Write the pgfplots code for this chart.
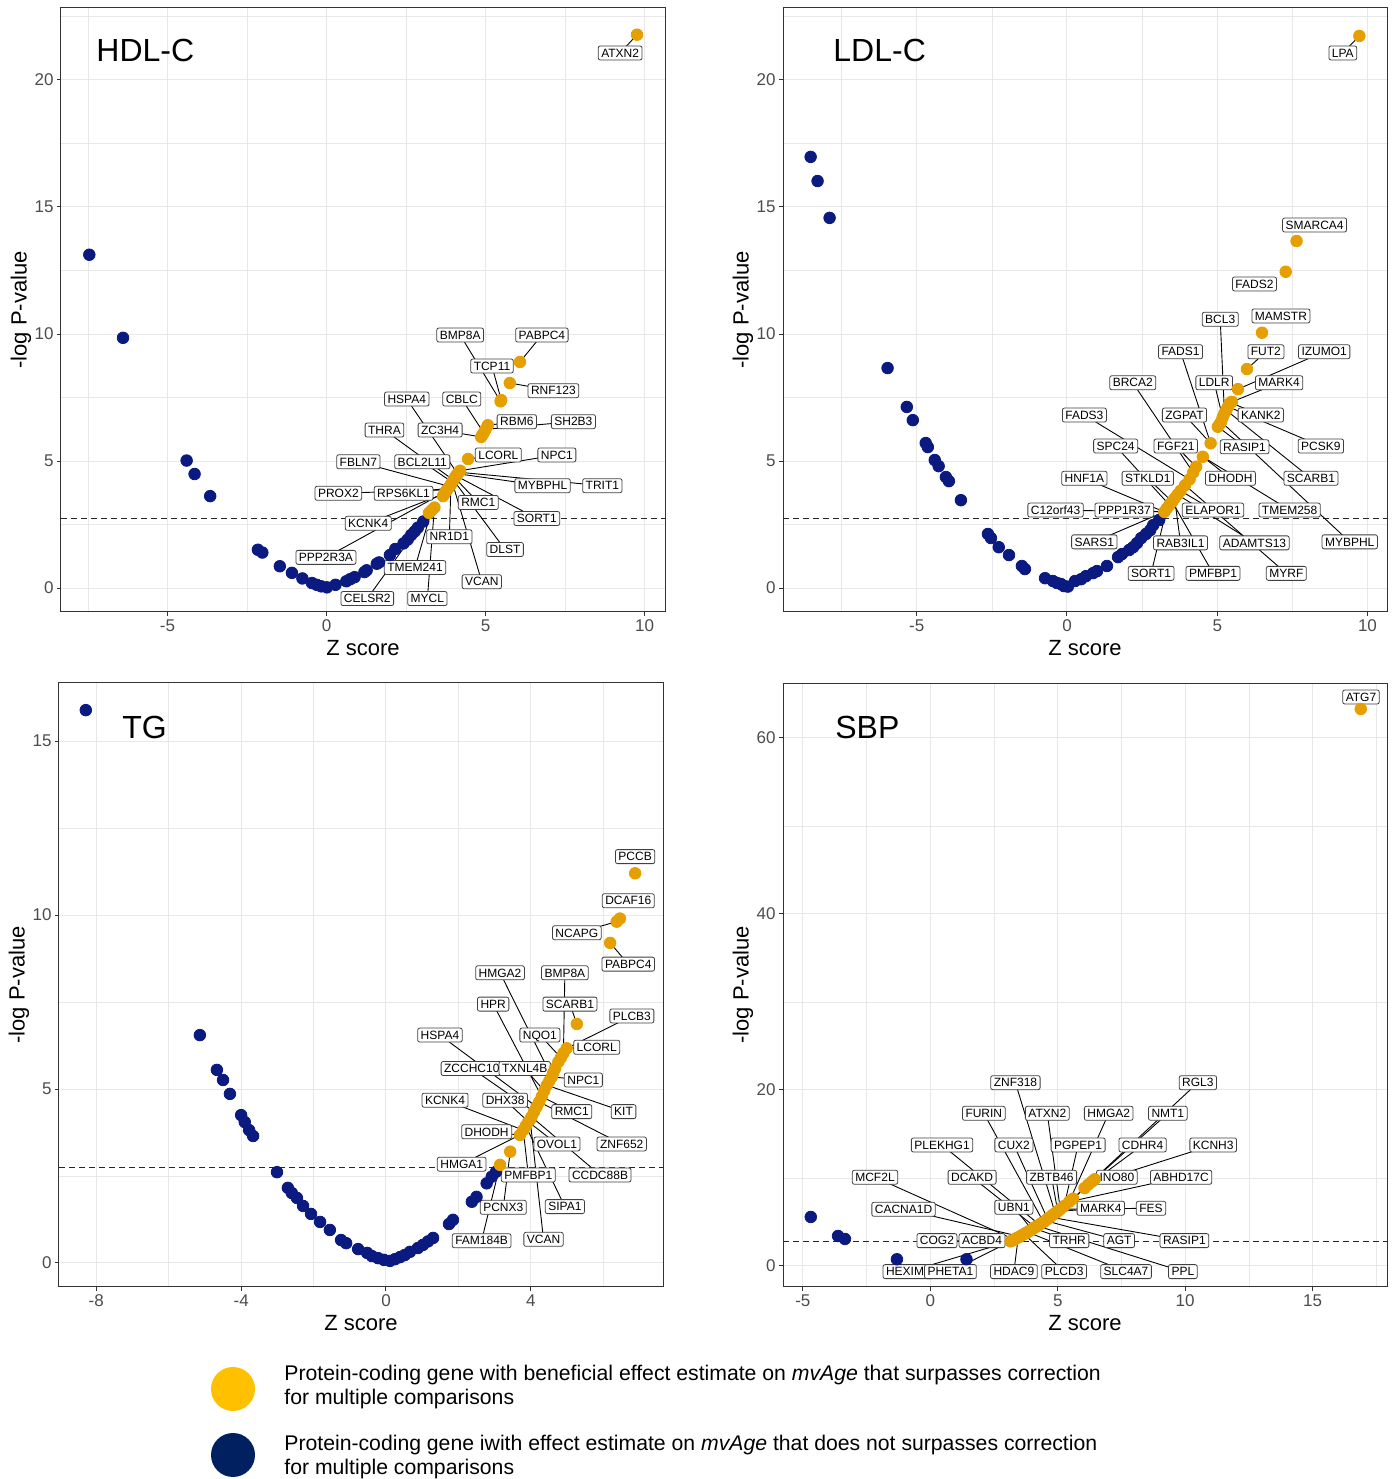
\documentclass[border=0pt]{standalone}
\usepackage{fontspec}
\setmainfont{Liberation Sans}
\usepackage{pgfplots}
\pgfplotsset{compat=1.18}
\definecolor{cOr}{HTML}{E69F00}
\definecolor{cNv}{HTML}{0A1A80}
\definecolor{cLy}{HTML}{FFC000}
\definecolor{cLn}{HTML}{002060}
\pgfplotsset{
  panel/.style={scale only axis, width=302pt, height=302pt, anchor=south west,
    axis line style={draw=black!80, line width=0.5pt},
    tick style={black!80, line width=0.5pt}, tick align=outside,
    xtick pos=bottom, ytick pos=left,
    major tick length=2pt, minor tick length=0pt, grid=both,
    major grid style={black!9, line width=0.5pt},
    minor grid style={black!9, line width=0.25pt},
    /pgf/number format/assume math mode=true,
    ticklabel style={font=\fontsize{8.5}{9}\selectfont, text=black!70},
    xticklabel style={inner sep=1pt, yshift=-0.5pt},
    yticklabel style={inner sep=1pt, xshift=-0.5pt},
    xlabel={Z score}, ylabel={-log P-value},
    label style={font=\fontsize{11}{12}\selectfont},
    xlabel style={at={([yshift=-18pt]axis description cs:0.5,0)}, anchor=center},
    ylabel style={at={([xshift=-20pt]axis description cs:0,0.5)}, anchor=center},
    clip=false},
  nv/.style={only marks, mark=*, mark size=2.9pt, color=cNv},
  orx/.style={only marks, mark=*, mark size=2.9pt, color=cOr},
}
\tikzset{
  lead/.style={black, line width=0.45pt},
  gl/.style={draw=black!75, fill=white, rounded corners=1pt, line width=0.4pt,
    inner xsep=1.5pt, inner ysep=1.2pt, text height=4.4pt, text depth=0.2pt,
    font=\fontsize{6}{7}\selectfont},
  ttl/.style={anchor=west, inner sep=0pt, font=\fontsize{16}{18}\selectfont},
}
\newcommand\lbline[5]{\draw[lead] (axis cs:#3,#4) -- (axis cs:#1,#2);}
\newcommand\lbnode[5]{\node[gl] at (axis cs:#1,#2) {#5};}
\newcommand\lbnline[3]{}
\newcommand\lbnnode[3]{\node[gl] at (axis cs:#1,#2) {#3};}
\newcommand\drawlabels[1]{\let\lb\lbline\let\lbn\lbnline #1\let\lb\lbnode\let\lbn\lbnnode #1}

% ---- label lists: {label x}{label y}{point x}{point y}{name}
\newcommand\labsHDL{%
\lb{9.23}{21.06}{9.76}{21.78}{ATXN2}
\lb{4.20}{9.96}{5.47}{7.35}{BMP8A}
\lb{6.77}{9.96}{6.08}{8.90}{PABPC4}
\lb{5.20}{8.74}{5.49}{7.40}{TCP11}
\lb{7.13}{7.77}{5.76}{8.07}{RNF123}
\lb{2.52}{7.44}{4.12}{4.50}{HSPA4}
\lb{4.25}{7.44}{4.94}{6.11}{CBLC}
\lb{7.76}{6.55}{5.00}{6.25}{SH2B3}
\lb{5.98}{6.55}{5.07}{6.41}{RBM6}
\lb{1.82}{6.22}{3.99}{4.25}{THRA}
\lb{3.57}{6.22}{4.86}{5.95}{ZC3H4}
\lb{7.24}{5.24}{4.20}{4.62}{NPC1}
\lb{5.40}{5.24}{4.45}{5.08}{LCORL}
\lb{1.00}{4.97}{3.87}{4.00}{FBLN7}
\lb{3.01}{4.97}{3.95}{4.17}{BCL2L11}
\lb{8.67}{4.03}{4.16}{4.56}{TRIT1}
\lb{6.79}{4.03}{4.12}{4.50}{MYBPHL}
\lb{0.37}{3.73}{3.78}{3.87}{PROX2}
\lb{2.42}{3.73}{3.82}{3.93}{RPS6KL1}
\lb{6.61}{2.74}{4.07}{4.42}{SORT1}
\lb{4.77}{3.37}{4.03}{4.34}{RMC1}
\lb{1.31}{2.55}{3.71}{3.72}{KCNK4}
\lb{3.86}{2.02}{3.91}{4.08}{NR1D1}
\lb{5.61}{1.52}{3.99}{4.25}{DLST}
\lb{-0.02}{1.21}{3.75}{3.80}{PPP2R3A}
\lb{2.78}{0.81}{3.30}{3.06}{TMEM241}
\lb{4.88}{0.25}{3.95}{4.17}{VCAN}
\lb{1.28}{-0.41}{3.22}{2.96}{CELSR2}
\lb{3.17}{-0.41}{3.39}{3.17}{MYCL}}

\newcommand\labsLDL{%
\lb{9.18}{21.06}{9.73}{21.73}{LPA}
\lbn{8.24}{14.29}{SMARCA4}
\lbn{6.24}{11.97}{FADS2}
\lbn{7.12}{10.71}{MAMSTR}
\lb{5.10}{10.58}{5.24}{6.88}{BCL3}
\lb{3.78}{9.30}{4.78}{5.70}{FADS1}
\lb{6.62}{9.30}{5.99}{8.62}{FUT2}
\lb{8.56}{9.30}{5.69}{7.83}{IZUMO1}
\lb{2.19}{8.08}{4.20}{4.55}{BRCA2}
\lb{4.90}{8.08}{5.18}{6.72}{LDLR}
\lb{7.06}{8.08}{5.49}{7.33}{MARK4}
\lb{0.58}{6.81}{4.08}{4.28}{FADS3}
\lb{3.91}{6.81}{4.78}{5.70}{ZGPAT}
\lb{6.45}{6.81}{5.44}{7.30}{KANK2}
\lb{1.62}{5.59}{3.41}{3.27}{SPC24}
\lb{3.62}{5.59}{4.30}{4.78}{FGF21}
\lb{5.91}{5.56}{5.02}{6.35}{RASIP1}
\lb{8.45}{5.59}{5.36}{7.14}{PCSK9}
\lb{0.58}{4.32}{3.24}{3.00}{HNF1A}
\lb{2.69}{4.32}{3.50}{3.40}{STKLD1}
\lb{5.44}{4.32}{4.52}{5.17}{DHODH}
\lb{8.12}{4.32}{5.30}{7.00}{SCARB1}
\lb{-0.38}{3.07}{3.24}{3.00}{C12orf43}
\lb{1.91}{3.07}{3.24}{3.00}{PPP1R37}
\lb{4.86}{3.07}{3.78}{3.83}{ELAPOR1}
\lb{7.41}{3.07}{4.52}{5.17}{TMEM258}
\lb{9.41}{1.82}{5.13}{6.55}{MYBPHL}
\lb{0.91}{1.82}{3.24}{3.00}{SARS1}
\lb{3.78}{1.78}{3.58}{3.53}{RAB3IL1}
\lb{6.24}{1.78}{3.68}{3.68}{ADAMTS13}
\lb{2.80}{0.58}{3.32}{3.13}{SORT1}
\lb{4.86}{0.58}{3.50}{3.40}{PMFBP1}
\lb{7.30}{0.58}{3.93}{4.05}{MYRF}}

\newcommand\labsTG{%
\lbn{6.88}{11.68}{PCCB}
\lbn{6.69}{10.41}{DCAF16}
\lb{5.27}{9.49}{6.37}{9.81}{NCAPG}
\lb{6.69}{8.59}{6.19}{9.20}{PABPC4}
\lb{3.15}{8.34}{4.58}{5.35}{HMGA2}
\lb{4.94}{8.34}{4.90}{6.03}{BMP8A}
\lb{2.96}{7.44}{4.30}{4.78}{HPR}
\lb{5.08}{7.44}{5.27}{6.87}{SCARB1}
\lb{6.79}{7.10}{4.99}{6.17}{PLCB3}
\lb{1.49}{6.55}{4.16}{4.49}{HSPA4}
\lb{4.25}{6.55}{4.83}{5.90}{NQO1}
\lb{5.82}{6.20}{4.99}{6.17}{LCORL}
\lb{2.37}{5.59}{4.09}{4.35}{ZCCHC10}
\lb{3.83}{5.59}{4.37}{4.95}{TXNL4B}
\lb{5.45}{5.26}{4.58}{5.35}{NPC1}
\lb{1.63}{4.68}{3.79}{3.82}{KCNK4}
\lb{3.29}{4.68}{3.93}{4.06}{DHX38}
\lb{5.13}{4.35}{4.30}{4.78}{RMC1}
\lb{6.56}{4.35}{4.44}{5.11}{KIT}
\lb{2.78}{3.77}{3.70}{3.68}{DHODH}
\lb{4.72}{3.42}{3.93}{4.06}{OVOL1}
\lb{6.51}{3.42}{4.23}{4.63}{ZNF652}
\lb{2.09}{2.84}{3.70}{3.68}{HMGA1}
\lb{3.93}{2.53}{3.79}{3.82}{PMFBP1}
\lb{5.91}{2.53}{4.02}{4.20}{CCDC88B}
\lb{3.24}{1.60}{3.43}{3.20}{PCNX3}
\lb{4.94}{1.62}{3.86}{3.94}{SIPA1}
\lb{2.64}{0.64}{3.15}{2.82}{FAM184B}
\lb{4.35}{0.68}{3.98}{4.12}{VCAN}}

\newcommand\labsSBP{%
\lbn{16.90}{64.66}{ATG7}
\lb{3.34}{20.83}{4.90}{6.00}{ZNF318}
\lb{10.50}{20.83}{5.60}{7.65}{RGL3}
\lb{2.10}{17.35}{4.44}{5.00}{FURIN}
\lb{4.59}{17.35}{5.10}{6.45}{ATXN2}
\lb{7.00}{17.35}{5.45}{7.30}{HMGA2}
\lb{9.32}{17.35}{5.60}{7.65}{NMT1}
\lb{0.46}{13.75}{4.28}{4.70}{PLEKHG1}
\lb{3.28}{13.75}{4.60}{5.35}{CUX2}
\lb{5.80}{13.75}{5.25}{6.80}{PGPEP1}
\lb{8.33}{13.75}{6.05}{8.85}{CDHR4}
\lb{11.10}{13.75}{6.20}{9.25}{KCNH3}
\lb{-2.17}{10.08}{3.30}{3.00}{MCF2L}
\lb{1.64}{10.08}{4.12}{4.40}{DCAKD}
\lb{4.76}{10.08}{5.00}{6.20}{ZBTB46}
\lb{7.32}{10.08}{6.45}{9.85}{INO80}
\lb{9.84}{10.08}{5.45}{7.30}{ABHD17C}
\lb{-1.05}{6.44}{3.52}{3.35}{CACNA1D}
\lb{3.28}{6.67}{3.98}{4.15}{UBN1}
\lb{8.66}{6.56}{5.10}{6.45}{FES}
\lb{6.69}{6.56}{5.00}{6.20}{MARK4}
\lb{0.26}{2.88}{3.15}{2.80}{COG2}
\lb{2.03}{2.88}{3.22}{2.90}{ACBD4}
\lb{5.45}{2.88}{4.05}{4.30}{TRHR}
\lb{7.41}{2.88}{4.52}{5.15}{AGT}
\lb{9.97}{2.88}{4.70}{5.55}{RASIP1}
\lb{-0.86}{-0.64}{3.15}{2.80}{HEXIM1}
\lb{0.79}{-0.64}{3.22}{2.90}{PHETA1}
\lb{3.28}{-0.64}{3.45}{3.25}{HDAC9}
\lb{5.25}{-0.64}{3.68}{3.62}{PLCD3}
\lb{7.68}{-0.64}{3.82}{3.85}{SLC4A7}
\lb{9.91}{-0.64}{4.20}{4.55}{PPL}}

\begin{document}
\begin{tikzpicture}
\path[use as bounding box] (0pt,0pt) rectangle (698pt,739.5pt);

% ---------------- HDL-C
\begin{axis}[panel, at={(30.5pt,433.5pt)},
  xmin=-8.35, xmax=10.64, ymin=-0.94, ymax=22.83,
  xtick={-5,0,5,10}, ytick={0,5,10,15,20},
  minor xtick={-7.5,-2.5,2.5,7.5}, minor ytick={2.5,7.5,12.5,17.5,22.5}]
\draw[dashed, black!85, line width=0.5pt, dash pattern=on 3pt off 2pt]
  (axis cs:-8.35,2.75) -- (axis cs:10.64,2.75);
\addplot[nv] coordinates {(-7.46,13.12) (-6.40,9.85) (-4.40,5.02) (-4.15,4.49) (-3.66,3.62)
 (-2.16,1.51) (-2.02,1.40) (-1.47,0.86) (-1.09,0.60) (-0.76,0.38) (-0.46,0.20) (-0.31,0.13)
 (-0.17,0.07) (0.01,0.03) (0.28,0.13) (0.62,0.27) (0.74,0.35) (0.88,0.43) (1.19,0.63)
 (1.26,0.70) (1.58,0.96) (1.65,1.01) (1.99,1.30) (2.16,1.54) (2.42,1.76) (2.55,1.91)
 (2.66,2.09) (2.77,2.23) (2.87,2.38) (3.04,2.62)};
\addplot[orx] coordinates {(3.22,2.96) (3.30,3.06) (3.39,3.17) (3.66,3.62) (3.71,3.72)
 (3.75,3.80) (3.78,3.87) (3.82,3.93) (3.87,4.00) (3.91,4.08) (3.95,4.17) (3.99,4.25)
 (4.03,4.34) (4.07,4.42) (4.12,4.50) (4.16,4.56) (4.20,4.62) (4.45,5.08) (4.86,5.95)
 (4.90,6.03) (4.94,6.11) (5.00,6.25) (5.07,6.41) (5.47,7.35) (5.49,7.40) (5.76,8.07)
 (6.08,8.90) (9.76,21.78)};
\drawlabels{\labsHDL}
\node[ttl] at ([xshift=17.5pt,yshift=-21pt]rel axis cs:0,1) {HDL-C};
\end{axis}

% ---------------- LDL-C
\begin{axis}[panel, at={(391.5pt,433.5pt)},
  xmin=-9.45, xmax=10.65, ymin=-0.94, ymax=22.83,
  xtick={-5,0,5,10}, ytick={0,5,10,15,20},
  minor xtick={-7.5,-2.5,2.5,7.5}, minor ytick={2.5,7.5,12.5,17.5,22.5}]
\draw[dashed, black!85, line width=0.5pt, dash pattern=on 3pt off 2pt]
  (axis cs:-9.45,2.75) -- (axis cs:10.65,2.75);
\addplot[nv] coordinates {(-8.53,16.97) (-8.30,16.02) (-7.90,14.57) (-5.97,8.66) (-5.33,7.13)
 (-5.13,6.61) (-4.70,5.71) (-4.63,5.55) (-4.40,5.04) (-4.27,4.80) (-4.03,4.37) (-3.93,4.21)
 (-3.53,3.46) (-2.63,2.13) (-2.53,1.97) (-2.27,1.61) (-1.93,1.30) (-1.50,0.87) (-1.40,0.75)
 (-0.73,0.39) (-0.47,0.28) (-0.33,0.20) (-0.20,0.16) (-0.10,0.08) (0.03,0.06) (0.27,0.28)
 (0.47,0.35) (0.63,0.47) (0.87,0.59) (1.00,0.67) (1.33,0.87) (1.70,1.22) (1.83,1.34)
 (2.07,1.50) (2.20,1.61) (2.33,1.77) (2.47,1.97) (2.63,2.13) (2.77,2.28) (2.87,2.48)
 (3.07,2.68)};
\addplot[orx] coordinates {(3.24,3.00) (3.32,3.13) (3.41,3.27) (3.50,3.40) (3.58,3.53)
 (3.68,3.68) (3.78,3.83) (3.93,4.05) (4.08,4.28) (4.20,4.55) (4.30,4.78) (4.52,5.17)
 (4.78,5.70) (5.02,6.35) (5.08,6.45) (5.13,6.55) (5.18,6.72) (5.24,6.88) (5.30,7.00)
 (5.36,7.14) (5.44,7.30) (5.49,7.33) (5.69,7.83) (5.99,8.62) (6.49,10.05) (7.28,12.45)
 (7.64,13.66) (9.73,21.73)};
\drawlabels{\labsLDL}
\node[ttl] at ([xshift=25pt,yshift=-21pt]rel axis cs:0,1) {LDL-C};
\end{axis}

% ---------------- TG
\begin{axis}[panel, at={(29.5pt,96pt)},
  xmin=-9.03, xmax=7.65, ymin=-0.69, ymax=16.67,
  xtick={-8,-4,0,4}, ytick={0,5,10,15},
  minor xtick={-6,-2,2,6}, minor ytick={2.5,7.5,12.5}]
\draw[dashed, black!85, line width=0.5pt, dash pattern=on 3pt off 2pt]
  (axis cs:-9.03,2.75) -- (axis cs:7.65,2.75);
\addplot[nv] coordinates {(-8.29,15.89) (-5.14,6.55) (-4.67,5.55) (-4.50,5.26) (-4.31,4.86)
 (-4.00,4.25) (-3.90,4.05) (-3.78,3.82) (-3.67,3.65) (-3.01,2.61) (-2.71,2.16) (-2.60,2.01)
 (-2.46,1.87) (-2.29,1.64) (-2.07,1.41) (-1.82,1.18) (-1.55,0.95) (-1.24,0.66) (-1.10,0.57)
 (-0.77,0.40) (-0.52,0.29) (-0.39,0.20) (-0.22,0.14) (-0.06,0.09) (0.11,0.06) (0.25,0.11)
 (0.39,0.17) (0.52,0.23) (0.66,0.32) (0.88,0.43) (1.02,0.52) (1.16,0.62) (1.30,0.72)
 (1.74,1.12) (1.85,1.24) (2.37,1.76) (2.50,1.90) (2.78,2.29) (2.92,2.48) (3.04,2.62)};
\addplot[orx] coordinates {(3.15,2.82) (3.43,3.20) (3.70,3.68) (3.79,3.82) (3.86,3.94)
 (3.93,4.06) (3.98,4.12) (4.02,4.20) (4.09,4.35) (4.16,4.49) (4.23,4.63) (4.30,4.78)
 (4.37,4.95) (4.44,5.11) (4.51,5.23) (4.58,5.35) (4.62,5.47) (4.67,5.59) (4.76,5.78)
 (4.83,5.90) (4.90,6.03) (4.99,6.17) (5.27,6.87) (6.19,9.20) (6.37,9.81) (6.46,9.90)
 (6.88,11.20)};
\drawlabels{\labsTG}
\node[ttl] at ([xshift=31.5pt,yshift=-22pt]rel axis cs:0,1) {TG};
\end{axis}

% ---------------- SBP
\begin{axis}[panel, at={(391.5pt,96pt)},
  xmin=-5.78, xmax=17.92, ymin=-2.39, ymax=66.25,
  xtick={-5,0,5,10,15}, ytick={0,20,40,60},
  minor xtick={-2.5,2.5,7.5,12.5,17.5}, minor ytick={10,30,50}]
\draw[dashed, black!85, line width=0.5pt, dash pattern=on 3pt off 2pt]
  (axis cs:-5.78,2.75) -- (axis cs:17.92,2.75);
\addplot[nv] coordinates {(-4.69,5.57) (-3.62,3.41) (-3.35,3.07) (-1.31,0.76) (1.42,0.76)};
\addplot[orx] coordinates {(3.15,2.80) (3.22,2.90) (3.30,3.00) (3.38,3.15) (3.45,3.25)
 (3.52,3.35) (3.60,3.50) (3.68,3.62) (3.75,3.75) (3.82,3.85) (3.90,4.00) (3.98,4.15)
 (4.05,4.30) (4.12,4.40) (4.20,4.55) (4.28,4.70) (4.36,4.85) (4.44,5.00) (4.52,5.15)
 (4.60,5.35) (4.70,5.55) (4.80,5.80) (4.90,6.00) (5.00,6.20) (5.10,6.45) (5.25,6.80)
 (5.45,7.30) (5.60,7.65) (6.05,8.85) (6.20,9.25) (6.35,9.60) (6.45,9.85) (16.89,63.30)};
\drawlabels{\labsSBP}
\node[ttl] at ([xshift=26pt,yshift=-22pt]rel axis cs:0,1) {SBP};
\end{axis}

% ---------------- legend
\fill[cLy] (116.5pt,45pt) circle (11pt);
\fill[cLn] (116.5pt,12pt) circle (11pt);
\begin{scope}[every node/.style={anchor=base west, inner sep=0pt, font=\fontsize{10.6}{12}\selectfont}]
\node at (142pt,49pt) {Protein-coding gene with beneficial effect estimate on \textit{mvAge} that surpasses correction};
\node at (142pt,37pt) {for multiple comparisons};
\node at (142pt,14pt) {Protein-coding gene iwith effect estimate on \textit{mvAge} that does not surpasses correction};
\node at (142pt,2pt) {for multiple comparisons};
\end{scope}
\end{tikzpicture}
\end{document}
